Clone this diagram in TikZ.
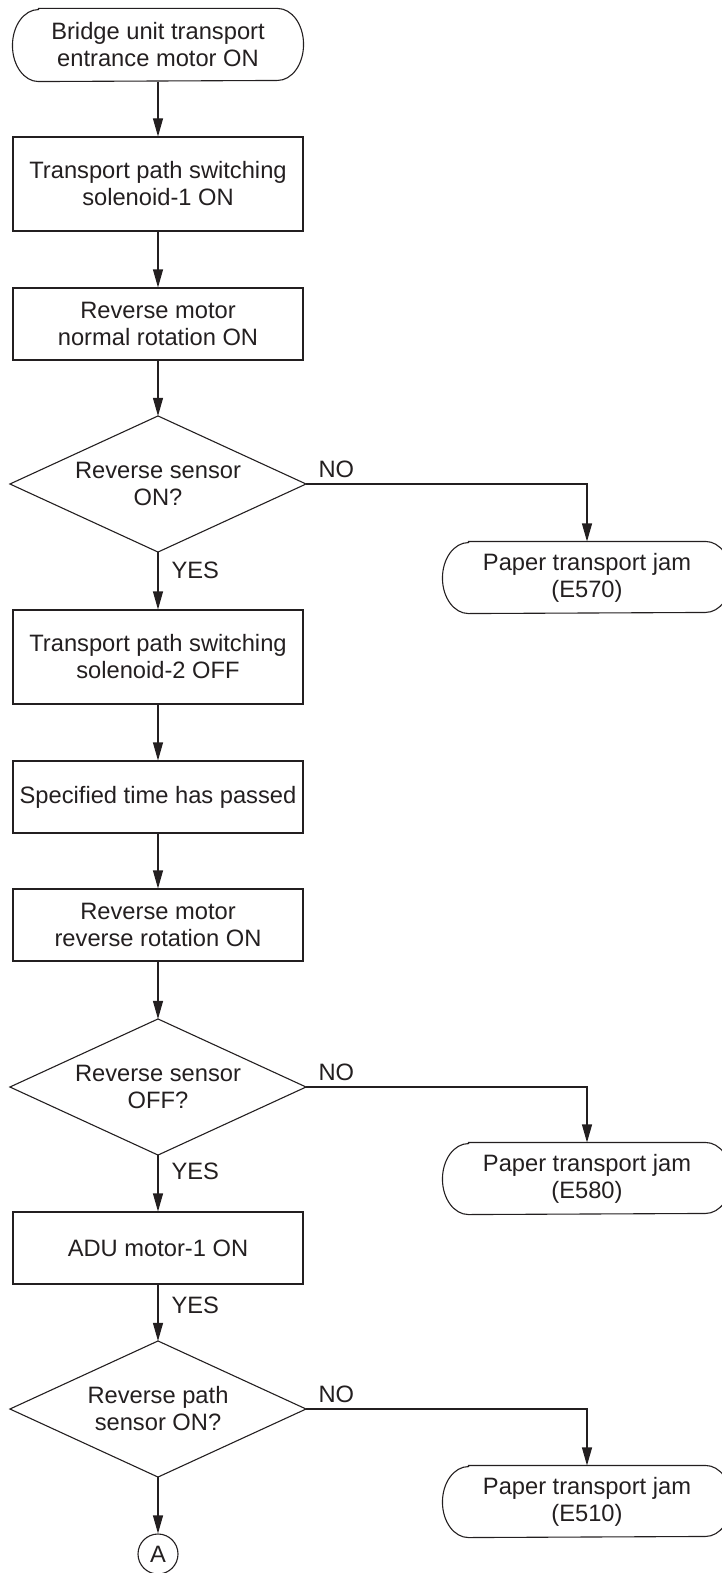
\documentclass[tikz,border=0pt]{standalone}
\usepackage{fontspec}
\setmainfont{Liberation Sans}
\usetikzlibrary{arrows.meta,calc}
\definecolor{ink}{HTML}{231F20}
\newcommand{\termshape}[2]{\draw ($(#1.north west)+(26,0)$) -- ($(#1.north east)+(-26,0)$) arc[start angle=90,end angle=-90,x radius=26pt,y radius=#2pt] -- ($(#1.south west)+(26,0)$) arc[start angle=270,end angle=90,x radius=26pt,y radius=#2pt] -- cycle;}
\newcommand{\decshape}[1]{\draw (#1.west) -- (#1.north) -- (#1.east) -- (#1.south) -- cycle;}
\begin{document}
\begin{tikzpicture}[x=1pt,y=1pt,line width=1.1pt,color=ink,
  every node/.style={font=\fontsize{23.7}{27}\selectfont,align=center,inner sep=0pt},
  box/.style={draw,rectangle,minimum width=290pt},
  term/.style={rectangle,minimum width=290pt,minimum height=72pt},
  term2/.style={rectangle,minimum width=288pt,minimum height=71pt},
  dec/.style={rectangle,minimum width=295pt,minimum height=135pt},
  arr/.style={-{Triangle[length=18pt,width=10pt]}},
  lbl/.style={anchor=west}]
\useasboundingbox (0,0) rectangle (721,-1573);
% main column
\node[term] (t0) at (158,-45) {Bridge unit transport\\entrance motor ON};
\termshape{t0}{36}
\node[box,minimum height=94pt] (b1) at (158,-184) {Transport path switching\\solenoid-1 ON};
\node[box,minimum height=72pt] (b2) at (158,-324) {Reverse motor\\normal rotation ON};
\node[dec] (d1) at (158,-484) {Reverse sensor\\ON?};
\decshape{d1}
\node[box,minimum height=94pt] (b3) at (158,-657) {Transport path switching\\solenoid-2 OFF};
\node[box,minimum height=72pt] (b4) at (158,-797) {Specified time has passed};
\node[box,minimum height=72pt] (b5) at (158,-925) {Reverse motor\\reverse rotation ON};
\node[dec] (d2) at (158,-1087) {Reverse sensor\\OFF?};
\decshape{d2}
\node[box,minimum height=72pt] (b6) at (158,-1248) {ADU motor-1 ON};
\node[dec] (d3) at (158,-1409) {Reverse path\\sensor ON?};
\decshape{d3}
\node[circle,draw,minimum size=40pt] (ca) at (158,-1554) {A};
% right terminals
\node[term2] (t1) at (587,-577.5) {Paper transport jam\\(E570)};
\termshape{t1}{35.5}
\node[term2] (t2) at (587,-1178.5) {Paper transport jam\\(E580)};
\termshape{t2}{35.5}
\node[term2] (t3) at (587,-1501.5) {Paper transport jam\\(E510)};
\termshape{t3}{35.5}
% connectors
\draw[arr] (t0.south) -- (b1.north);
\draw[arr] (b1.south) -- (b2.north);
\draw[arr] (b2.south) -- (d1.north);
\draw[arr] (d1.south) -- (b3.north);
\draw[arr] (b3.south) -- (b4.north);
\draw[arr] (b4.south) -- (b5.north);
\draw[arr] (b5.south) -- (d2.north);
\draw[arr] (d2.south) -- (b6.north);
\draw[arr] (b6.south) -- (d3.north);
\draw[arr] (d3.south) -- (ca.north);
\draw[arr] (d1.east) -| (t1.north);
\draw[arr] (d2.east) -| (t2.north);
\draw[arr] (d3.east) -| (t3.north);
% labels
\node[lbl] (no1) at ($(d1.east)+(12,15)$) {NO};
\node[lbl] (no2) at ($(d2.east)+(12,15)$) {NO};
\node[lbl] (no3) at ($(d3.east)+(12,15)$) {NO};
\node[lbl] (yes1) at ($(d1.south)+(13,-18)$) {YES};
\node[lbl] (yes2) at ($(d2.south)+(13,-16)$) {YES};
\node[lbl] (yes3) at ($(b6.south)+(13,-21)$) {YES};
\end{tikzpicture}
\end{document}
